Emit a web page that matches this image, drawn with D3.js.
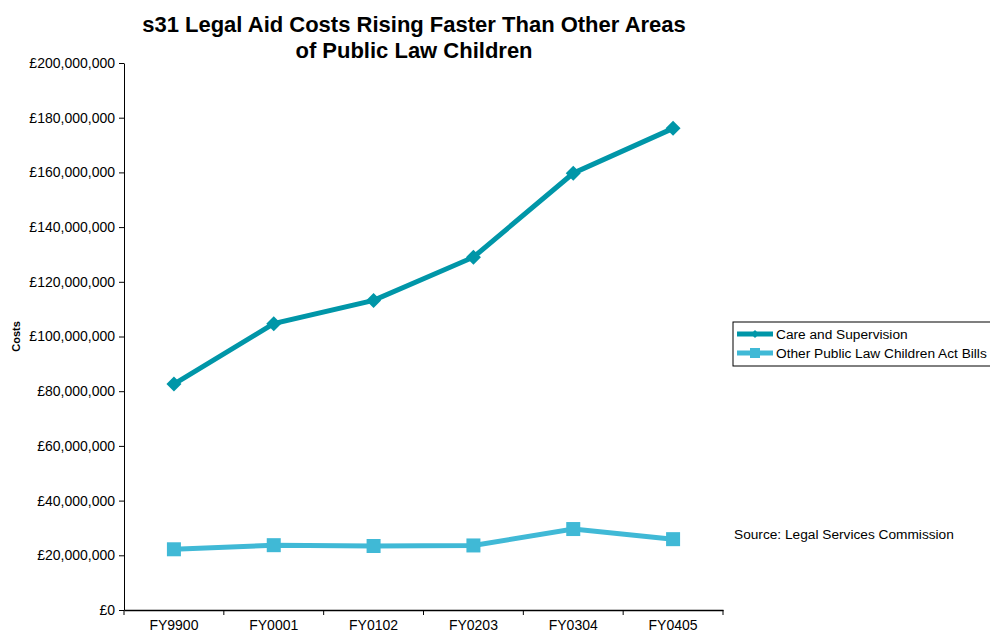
<!DOCTYPE html>
<html>
<head>
<meta charset="utf-8">
<script src="https://cdn.jsdelivr.net/npm/d3@7"></script>
<style>
  body { margin: 0; background: #fff; }
  svg { font-family: "Liberation Sans", Arial, sans-serif; }
</style>
</head>
<body>
<svg id="chart" width="990" height="632"></svg>
<script>
const categories = ["FY9900", "FY0001", "FY0102", "FY0203", "FY0304", "FY0405"];
const careValues = [82600000, 104700000, 113200000, 129000000, 159700000, 176100000];
const otherValues = [22200000, 23700000, 23400000, 23600000, 29600000, 25900000];
const yTicks = [0, 20000000, 40000000, 60000000, 80000000, 100000000, 120000000, 140000000, 160000000, 180000000, 200000000];

const series = [
  { name: "Care and Supervision", values: careValues, color: "#0096A8", marker: "diamond" },
  { name: "Other Public Law Children Act Bills", values: otherValues, color: "#40B9D6", marker: "square" }
];

const svg = d3.select("#chart");
const margin = { top: 63, left: 124, right: 267, bottom: 22 };
const width = 990, height = 632;

const x = d3.scaleBand().domain(categories).range([margin.left, width - margin.right]);
const y = d3.scaleLinear().domain([0, 200000000]).range([height - margin.bottom, margin.top]);

// title
svg.append("text")
  .attr("x", 414).attr("y", 32)
  .attr("text-anchor", "middle")
  .attr("font-size", 22).attr("font-weight", "bold")
  .text("s31 Legal Aid Costs Rising Faster Than Other Areas");
svg.append("text")
  .attr("x", 414).attr("y", 58)
  .attr("text-anchor", "middle")
  .attr("font-size", 22).attr("font-weight", "bold")
  .text("of Public Law Children");

// y axis
const fmt = d => "£" + d3.format(",")(d);
const yAxis = svg.append("g")
  .attr("transform", `translate(${margin.left},0)`)
  .call(d3.axisLeft(y).tickValues(yTicks).tickFormat(fmt).tickSize(5).tickSizeOuter(0));
yAxis.selectAll("text").attr("font-size", 14).attr("fill", "#000").attr("dx", "-1");
yAxis.selectAll("line, path").attr("stroke", "#000");

// x axis
const xAxis = svg.append("g")
  .attr("transform", `translate(0,${y(0)})`)
  .call(d3.axisBottom(x).tickSize(0).tickSizeOuter(0));
xAxis.select("path").attr("stroke", "#000").attr("stroke-width", 1.5);
xAxis.selectAll("text").attr("font-size", 14).attr("fill", "#000").attr("dy", "1.2em");
// tick marks at category boundaries
const bounds = categories.map(c => x(c)).concat([x(categories[categories.length - 1]) + x.bandwidth()]);
xAxis.selectAll(".bound").data(bounds).join("line")
  .attr("class", "bound")
  .attr("x1", d => d).attr("x2", d => d)
  .attr("y1", 0).attr("y2", 5)
  .attr("stroke", "#000");

// y label
svg.append("text")
  .attr("transform", `translate(20,${(y(0) + y(200000000)) / 2}) rotate(-90)`)
  .attr("text-anchor", "middle")
  .attr("font-size", 11).attr("font-weight", "bold")
  .text("Costs");

const cx = d => x(d) + x.bandwidth() / 2;
const line = d3.line().x((v, i) => cx(categories[i])).y(v => y(v));

function drawMarker(g, kind, px, py, color, s) {
  if (kind === "diamond") {
    g.append("path")
      .attr("d", `M${px},${py - s}L${px + s},${py}L${px},${py + s}L${px - s},${py}Z`)
      .attr("fill", color);
  } else {
    g.append("rect")
      .attr("x", px - s).attr("y", py - s)
      .attr("width", 2 * s).attr("height", 2 * s)
      .attr("fill", color);
  }
}

series.forEach(s => {
  svg.append("path")
    .datum(s.values)
    .attr("d", line)
    .attr("fill", "none")
    .attr("stroke", s.color)
    .attr("stroke-width", 5);
  const mg = svg.append("g");
  s.values.forEach((v, i) => {
    drawMarker(mg, s.marker, cx(categories[i]), y(v), s.color, s.marker === "diamond" ? 7.5 : 7);
  });
});

// legend
const lg = svg.append("g").attr("transform", "translate(733,322)");
lg.append("rect").attr("x", 0).attr("y", 0).attr("width", 260).attr("height", 44)
  .attr("fill", "#fff").attr("stroke", "#000");
series.forEach((s, i) => {
  const ly = 12 + i * 19;
  lg.append("line").attr("x1", 4).attr("x2", 40).attr("y1", ly).attr("y2", ly)
    .attr("stroke", s.color).attr("stroke-width", 5);
  drawMarker(lg, s.marker, 22, ly, s.color, s.marker === "diamond" ? 4 : 5);
  lg.append("text").attr("x", 43).attr("y", ly + 5)
    .attr("font-size", 13.7).text(s.name);
});

// source note
svg.append("text")
  .attr("x", 734).attr("y", 539)
  .attr("font-size", 13.7)
  .text("Source: Legal Services Commission");
</script>
</body>
</html>
